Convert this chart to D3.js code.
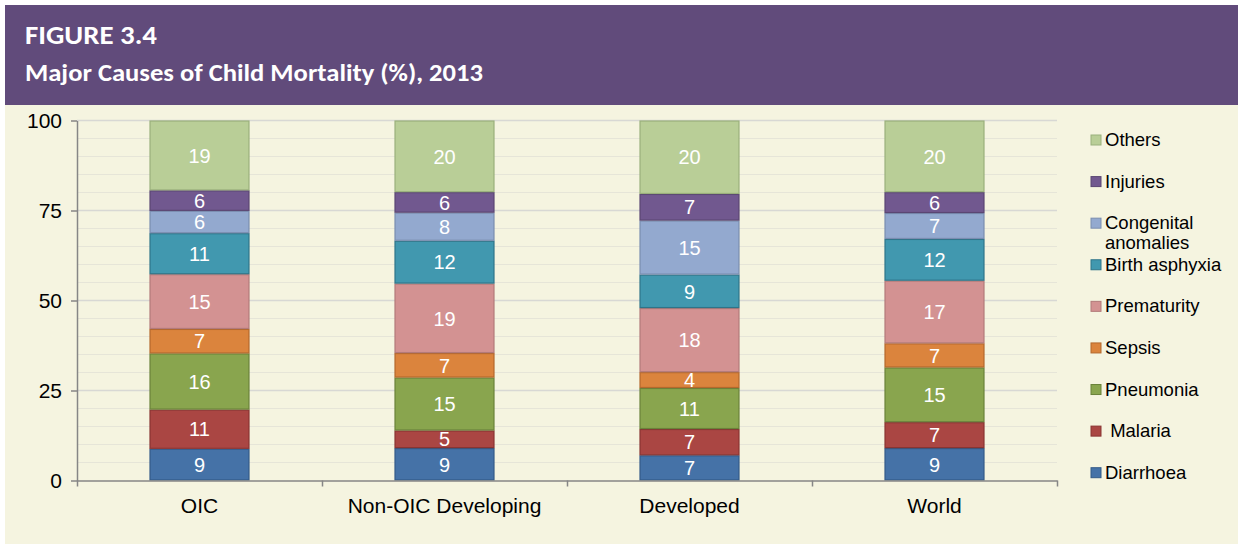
<!DOCTYPE html>
<html>
<head>
<meta charset="utf-8">
<script src="https://cdn.jsdelivr.net/npm/d3@7"></script>
<style>
  body { margin: 0; background: #ffffff; }
  svg text { font-family: Arial, "Liberation Sans", sans-serif; }
</style>
</head>
<body>
<div id="chart"></div>
<script>
var w = 1238;
var h = 544;

// categories on the x axis
var categories = ["OIC", "Non-OIC Developing", "Developed", "World"];

// causes, bottom of the stack first
var causes = ["Diarrhoea", "Malaria", "Pneumonia", "Sepsis", "Prematurity",
    "Birth asphyxia", "Congenital anomalies", "Injuries", "Others"];

// shares (%), one array per cause
var diarrhoea = [8.8, 9.0, 7.0, 9.0];
var malaria = [10.9, 4.9, 7.3, 7.2];
var pneumonia = [15.6, 14.7, 11.4, 15.2];
var sepsis = [6.8, 6.8, 4.4, 6.7];
var prematurity = [15.2, 19.3, 17.8, 17.4];
var birthAsphyxia = [11.4, 11.9, 9.3, 11.6];
var congenital = [6.2, 7.8, 15.0, 7.2];
var injuries = [5.7, 5.7, 7.4, 5.8];
var others = [19.4, 19.9, 20.4, 19.9];

var yTicks = [0, 25, 50, 75, 100];

var fills = ["#4572A7", "#AA4643", "#89A54E", "#DB843D", "#D39292",
    "#4198AF", "#93A9CF", "#71588F", "#B9CE97"];
var strokes = ["#335A88", "#893432", "#6A823A", "#B4682C", "#B27A7A",
    "#2E7489", "#7A8DB0", "#5A4673", "#9AB07C"];

var series = [diarrhoea, malaria, pneumonia, sepsis, prematurity,
    birthAsphyxia, congenital, injuries, others];

// build rows for d3.stack
var rows = categories.map(function (c, i) {
    var r = { cat: c };
    causes.forEach(function (k, j) { r[k] = series[j][i]; });
    return r;
});
var stacked = d3.stack().keys(causes)(rows);

var svg = d3.select("#chart")
    .append("svg")
    .attr("width", w)
    .attr("height", h);

// header + panel
svg.append("rect")
    .attr("x", 5).attr("y", 105).attr("width", w - 5).attr("height", h - 105)
    .attr("fill", "#F5F4E0");
svg.append("rect")
    .attr("x", 5).attr("y", 5).attr("width", w - 5).attr("height", 100)
    .attr("fill", "#614B7B");

svg.append("text")
    .attr("x", 25).attr("y", 44)
    .style("font-family", "Carlito, Lato, sans-serif")
    .attr("font-weight", "bold")
    .attr("font-size", "26px")
    .attr("textLength", 132)
    .attr("lengthAdjust", "spacingAndGlyphs")
    .attr("fill", "#ffffff")
    .text("FIGURE 3.4");

svg.append("text")
    .attr("x", 25).attr("y", 81)
    .style("font-family", "Carlito, Lato, sans-serif")
    .attr("font-weight", "bold")
    .attr("font-size", "24px")
    .attr("textLength", 458)
    .attr("lengthAdjust", "spacingAndGlyphs")
    .attr("fill", "#ffffff")
    .text("Major Causes of Child Mortality (%), 2013");

// scales
var plotLeft = 77, plotRight = 1057, plotTop = 120.5, plotBottom = 480.5;

var xScale = d3.scaleBand().domain(categories).range([plotLeft, plotRight]).padding(0);
var xEdge = d3.scaleLinear().domain([0, categories.length]).range([plotLeft, plotRight]);
var yScale = d3.scaleLinear().domain([0, 100]).range([plotBottom, plotTop]);
var barW = xScale.bandwidth() * 0.404;

// grid: minor every 5, major every 25
svg.append("g")
    .selectAll("line")
    .data(d3.range(5, 100, 5).filter(function (d) { return d % 25 !== 0; }))
    .enter()
    .append("line")
    .attr("x1", plotLeft).attr("x2", plotRight)
    .attr("y1", function (d) { return yScale(d); })
    .attr("y2", function (d) { return yScale(d); })
    .attr("stroke", "#E6E5D8")
    .attr("stroke-width", 1.2);

svg.append("g")
    .selectAll("line")
    .data(yTicks.slice(1))
    .enter()
    .append("line")
    .attr("x1", plotLeft).attr("x2", plotRight)
    .attr("y1", function (d) { return yScale(d); })
    .attr("y2", function (d) { return yScale(d); })
    .attr("stroke", "#D8D8D4")
    .attr("stroke-width", 1.5);

// bars
var layer = svg.append("g")
    .selectAll("g")
    .data(stacked)
    .enter()
    .append("g");

layer.selectAll("rect")
    .data(function (d, j) {
        return d.map(function (p) { return { p: p, j: j }; });
    })
    .enter()
    .append("rect")
    .attr("x", function (d) { return xScale(d.p.data.cat) + (xScale.bandwidth() - barW) / 2; })
    .attr("y", function (d) { return yScale(d.p[1]) + 0.5; })
    .attr("width", barW)
    .attr("height", function (d) { return yScale(d.p[0]) - yScale(d.p[1]) - 1; })
    .attr("fill", function (d) { return fills[d.j]; })
    .attr("stroke", function (d) { return strokes[d.j]; })
    .attr("stroke-width", 1.2);

layer.selectAll("text")
    .data(function (d) { return d; })
    .enter()
    .append("text")
    .attr("x", function (d) { return xScale(d.data.cat) + xScale.bandwidth() / 2; })
    .attr("y", function (d) { return yScale((d[0] + d[1]) / 2); })
    .attr("dy", "0.36em")
    .attr("text-anchor", "middle")
    .attr("font-size", "20px")
    .attr("fill", "#ffffff")
    .text(function (d) { return Math.round(d[1] - d[0]); });

// axes
var yAxis = d3.axisLeft(yScale).tickValues(yTicks).tickSize(6).tickSizeOuter(0).tickPadding(9);
var gy = svg.append("g")
    .attr("transform", "translate(" + plotLeft + ",0)")
    .call(yAxis);
gy.selectAll("text").attr("font-size", "21px").attr("fill", "#000").style("font-family", "Arial, sans-serif");
gy.selectAll("line, path").attr("stroke", "#868686").attr("stroke-width", 1.5);

var edgeAxis = d3.axisBottom(xEdge).tickValues(d3.range(0, categories.length + 1))
    .tickSize(6).tickSizeOuter(0).tickFormat("");
var gx = svg.append("g")
    .attr("transform", "translate(0," + plotBottom + ")")
    .call(edgeAxis);
gx.selectAll("line, path").attr("stroke", "#868686").attr("stroke-width", 1.5);

var catAxis = d3.axisBottom(xScale).tickSize(0).tickPadding(18);
var gc = svg.append("g")
    .attr("transform", "translate(0," + plotBottom + ")")
    .call(catAxis);
gc.select(".domain").remove();
gc.selectAll("text").attr("font-size", "21px").attr("fill", "#000").style("font-family", "Arial, sans-serif");

// legend, top entry first
var legendY = d3.scaleLinear().domain([causes.length - 1, 0]).range([140, 472.7]);
var legend = svg.append("g")
    .selectAll("g")
    .data(causes)
    .enter()
    .append("g")
    .attr("transform", function (d, i) { return "translate(1091," + legendY(i) + ")"; });

legend.append("rect")
    .attr("x", 0).attr("y", -5)
    .attr("width", 10).attr("height", 10)
    .attr("fill", function (d, i) { return fills[i]; })
    .attr("stroke", function (d, i) { return strokes[i]; })
    .attr("stroke-width", 1);

legend.append("text")
    .attr("x", 14)
    .attr("y", 6)
    .attr("font-size", "18.5px")
    .attr("fill", "#000")
    .style("white-space", "pre")
    .each(function (d) {
        var t = d3.select(this);
        if (d === "Congenital anomalies") {
            t.append("tspan").attr("x", 14).attr("dy", 0).text("Congenital");
            t.append("tspan").attr("x", 14).attr("dy", 20).text("anomalies");
        } else if (d === "Malaria") {
            t.text(" Malaria");
        } else {
            t.text(d);
        }
    });
</script>
</body>
</html>
